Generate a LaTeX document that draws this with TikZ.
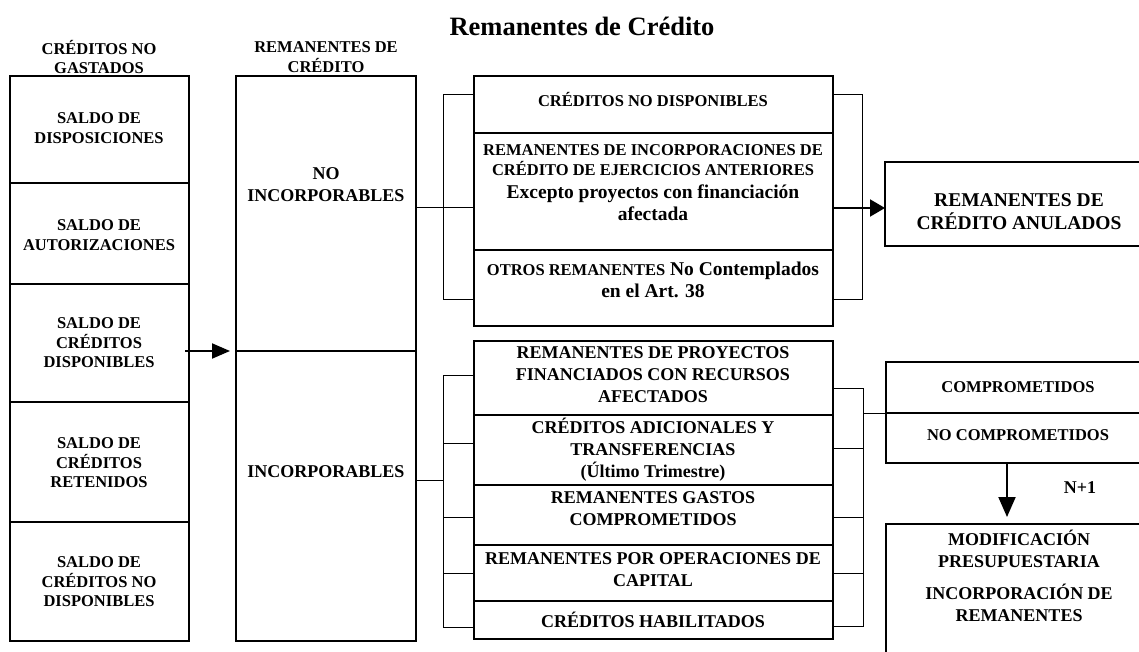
\documentclass[tikz,border=0pt]{standalone}
\usepackage{fontspec}
\setmainfont{Liberation Serif}
\usetikzlibrary{arrows.meta}
\newcommand\setfs[2]{\fontsize{#1}{#2}\selectfont}
\begin{document}
\begin{tikzpicture}[x=1pt,y=-1pt,
  thickbox/.style={draw, line width=2.2pt, inner sep=0pt, outer sep=0pt, anchor=north west},
  thinbox/.style={draw, line width=1.3pt, inner sep=0pt, outer sep=0pt, anchor=north west},
  br/.style={line width=1pt},
  lbl/.style={align=center, inner sep=0pt},
  s16/.style={lbl, font=\bfseries\setfs{16.5}{19.5}},
  s18/.style={lbl, font=\bfseries\setfs{18}{22}},
  s20/.style={lbl, font=\bfseries\setfs{19.5}{23}},
  arr/.style={line width=2pt, -{Triangle[#1]}},
]
\useasboundingbox (0,0) rectangle (1139,652);
\clip (0,0) rectangle (1139,652);

% title and headers
\node[lbl, font=\bfseries\setfs{26.5}{30}, anchor=base] (title) at (582,36) {Remanentes de Crédito};
\node[s16] (h1) at (99,57) {CRÉDITOS NO\\GASTADOS};
\node[s16] (h2) at (326,57) {REMANENTES DE\\CRÉDITO};

% left column
\node[thickbox, minimum width=179pt, minimum height=107pt] (b1) at (10,76) {};
\node[thickbox, minimum width=179pt, minimum height=101pt] (b2) at (10,183) {};
\node[thickbox, minimum width=179pt, minimum height=118pt] (b3) at (10,284) {};
\node[thickbox, minimum width=179pt, minimum height=120pt] (b4) at (10,402) {};
\node[thickbox, minimum width=179pt, minimum height=119pt] (b5) at (10,522) {};
\node[s16] (t1) at (99,128) {SALDO DE\\DISPOSICIONES};
\node[s16] (t2) at (99,235) {SALDO DE\\AUTORIZACIONES};
\node[s16] (t3) at (99,343) {SALDO DE\\CRÉDITOS\\DISPONIBLES};
\node[s16] (t4) at (99,463) {SALDO DE\\CRÉDITOS\\RETENIDOS};
\node[s16] (t5) at (99,582) {SALDO DE\\CRÉDITOS NO\\DISPONIBLES};

% second column
\node[thickbox, minimum width=180pt, minimum height=275pt] (remNI) at (236,76) {};
\node[thickbox, minimum width=180pt, minimum height=290pt] (remI) at (236,351) {};
\node[s18] (tNI) at (326,185) {NO\\INCORPORABLES};
\node[s18] (tI) at (326,472) {INCORPORABLES};

% upper group
\node[thinbox, minimum width=359pt, minimum height=57pt] (u1) at (474,76) {};
\node[thinbox, minimum width=359pt, minimum height=117pt] (u2) at (474,133) {};
\node[thinbox, minimum width=359pt, minimum height=76pt] (u3) at (474,250) {};
\node[s16] (tu1) at (653,100) {CRÉDITOS NO DISPONIBLES};
\node[s16, anchor=base] (tu2a) at (653,156) {REMANENTES DE INCORPORACIONES DE};
\node[s16, anchor=base] (tu2b) at (653,176) {CRÉDITO DE EJERCICIOS ANTERIORES};
\node[s20, anchor=base] (tu2c) at (653,199) {Excepto proyectos con financiación};
\node[s20, anchor=base] (tu2d) at (653,221) {afectada};
\node[lbl, font=\bfseries\setfs{19.5}{22}, anchor=base] (tu3a) at (653,275) {{\setfs{16.5}{22}OTROS REMANENTES} No Contemplados};
\node[s20, anchor=base] (tu3b) at (653,297) {en el Art. 38};

% lower group
\node[thinbox, minimum width=359pt, minimum height=74pt] (l1) at (474,341) {};
\node[thinbox, minimum width=359pt, minimum height=70pt] (l2) at (474,415) {};
\node[thinbox, minimum width=359pt, minimum height=60pt] (l3) at (474,485) {};
\node[thinbox, minimum width=359pt, minimum height=56pt] (l4) at (474,545) {};
\node[thinbox, minimum width=359pt, minimum height=38pt] (l5) at (474,601) {};
\node[s18] (tl1) at (653,375) {REMANENTES DE PROYECTOS\\FINANCIADOS CON RECURSOS\\AFECTADOS};
\node[s18] (tl2) at (653,450) {CRÉDITOS ADICIONALES Y\\TRANSFERENCIAS\\(Último Trimestre)};
\node[s18] (tl3) at (653,509) {REMANENTES GASTOS\\COMPROMETIDOS};
\node[s18] (tl4) at (653,570) {REMANENTES POR OPERACIONES DE\\CAPITAL};
\node[s18] (tl5) at (653,620) {CRÉDITOS HABILITADOS};

% right boxes
\node[thinbox, minimum width=260pt, minimum height=84pt] (anul) at (885,162) {};
\node[s20] (tanul) at (1019,212) {REMANENTES DE\\CRÉDITO ANULADOS};
\node[thinbox, minimum width=260pt, minimum height=51pt] (c1) at (886,362) {};
\node[thinbox, minimum width=260pt, minimum height=50pt] (c2) at (886,413) {};
\node[s16] (tc1) at (1018,387) {COMPROMETIDOS};
\node[s16] (tc2) at (1018,435) {NO COMPROMETIDOS};
\node[thinbox, minimum width=260pt, minimum height=150pt] (mod) at (886,524) {};
\node[s18] (tm1) at (1019,549) {MODIFICACIÓN\\PRESUPUESTARIA};
\node[s18] (tm2) at (1019,603) {INCORPORACIÓN DE\\REMANENTES};
\node[s18] (n1) at (1080,488) {N+1};

% brackets, upper
\draw[br] (u1.west |- 0,95) -| (443,299) -- (u3.west |- 0,299);
\draw[br] (remNI.east |- 0,208) -- (u2.west |- 0,208);
\draw[br] (u1.east |- 0,95) -| (862,299) -- (u3.east |- 0,299);
% brackets, lower
\draw[br] (l1.west |- 0,375) -| (443,627) -- (l5.west |- 0,627);
\foreach \yy in {443,517,573} \draw[br] (443,\yy) -- (l2.west |- 0,\yy);
\draw[br] (remI.east |- 0,480) -- (443,480);
\draw[br] (l1.east |- 0,388) -| (863,626) -- (l5.east |- 0,626);
\foreach \yy in {448,517,573} \draw[br] (l2.east |- 0,\yy) -- (863,\yy);
\draw[br] (863,413) -- (c1.south west);

% arrows
\draw[arr={length=18pt, width=15pt}] ([xshift=-4pt]b3.east |- remNI.south) -- ([xshift=-6pt]remNI.south west);
\draw[arr={length=15pt, width=17pt}] (u2.east |- 0,208) -- (anul.west |- 0,208);
\draw[arr={length=20pt, width=17pt}, shorten >=7pt] (c2.south -| 1007,0) -- (mod.north -| 1007,0);
\end{tikzpicture}
\end{document}
